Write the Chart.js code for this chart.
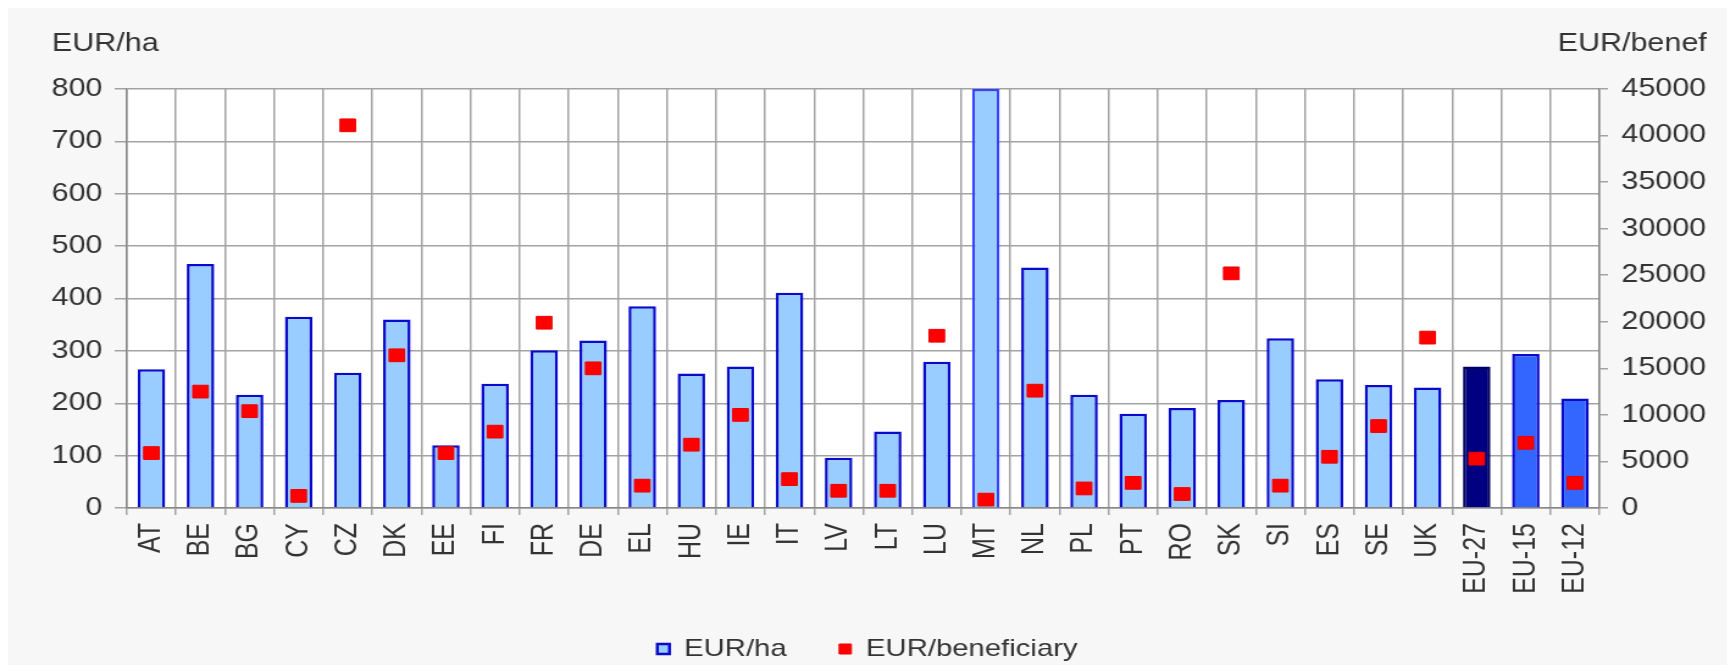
<!DOCTYPE html>
<html>
<head>
<meta charset="utf-8">
<script src="https://cdn.jsdelivr.net/npm/chart.js@4.4.1/dist/chart.umd.min.js"></script>
<style>
  html, body { margin: 0; padding: 0; background: #fff; }
  #panel { position: absolute; left: 8px; top: 8px; width: 1719px; height: 657px; background: #f7f7f7; }
  #wrap { position: absolute; left: 0; top: 0; width: 1422px; height: 671px; transform: scaleX(1.22); transform-origin: 0 0; }
</style>
</head>
<body>
<div id="panel"></div>
<div id="wrap"><canvas id="payChart"></canvas></div>
<script>
// countries and aggregates
const countries = ['AT', 'BE', 'BG', 'CY', 'CZ', 'DK', 'EE', 'FI', 'FR', 'DE', 'EL', 'HU', 'IE', 'IT', 'LV',
  'LT', 'LU', 'MT', 'NL', 'PL', 'PT', 'RO', 'SK', 'SI', 'ES', 'SE', 'UK', 'EU-27', 'EU-15', 'EU-12'];

// left axis: EUR per hectare
const eurPerHa = [265, 466, 216, 365, 258, 360, 120, 237, 301, 320, 385, 257, 270, 411, 96,
  146, 279, 800, 459, 216, 180, 191, 206, 324, 246, 235, 230, 270, 294, 209];

// right axis: EUR per beneficiary
const eurPerBenef = [5900, 12500, 10400, 1300, 41100, 16400, 5900, 8200, 19900, 15000, 2400, 6800, 10000, 3100, 1850,
  1850, 18500, 900, 12600, 2100, 2700, 1500, 25200, 2400, 5500, 8800, 18300, 5300, 7000, 2700];

const haTicks = [0, 100, 200, 300, 400, 500, 600, 700, 800];
const benefTicks = [0, 5000, 10000, 15000, 20000, 25000, 30000, 35000, 40000, 45000];

const FONT = '"Liberation Sans", Arial, sans-serif';
const TXT = '#333';
const GRID = '#a3a3a3';

const barFill = countries.map(c => c === 'EU-27' ? '#000080' : (c.startsWith('EU') ? '#3366ff' : '#99ccff'));
const barLine = countries.map(c => c === 'MT' ? '#3344ff' : (c === 'EU-27' ? '#000060' : '#0a0acc'));

// white plot background + unit captions above the axes
const decor = {
  id: 'decor',
  beforeDraw(chart) {
    const a = chart.chartArea, ctx = chart.ctx;
    ctx.save();
    ctx.fillStyle = '#fff';
    ctx.fillRect(a.left, a.top, a.right - a.left, a.bottom - a.top);
    ctx.restore();
  },
  afterDraw(chart) {
    const ctx = chart.ctx;
    ctx.save();
    ctx.font = '25px ' + FONT;
    ctx.fillStyle = TXT;
    ctx.textBaseline = 'middle';
    ctx.textAlign = 'left';
    ctx.fillText('EUR/ha', 42.5, 44);
    ctx.textAlign = 'right';
    ctx.fillText('EUR/benef', 1399, 44);
    ctx.restore();
  }
};

new Chart(document.getElementById('payChart'), {
  type: 'bar',
  data: {
    labels: countries,
    datasets: [{
      type: 'line',
      label: 'EUR/beneficiary',
      data: eurPerBenef,
      yAxisID: 'y2',
      showLine: false,
      pointStyle: 'rect',
      pointRadius: 9,
      pointHoverRadius: 9,
      pointBackgroundColor: '#ff0000',
      pointBorderColor: '#ee0000',
      pointBorderWidth: 1,
      backgroundColor: '#ff0000',
      borderColor: '#ee0000',
      borderWidth: 1,
      order: 0
    }, {
      label: 'EUR/ha',
      data: eurPerHa,
      yAxisID: 'y',
      backgroundColor: barFill,
      borderColor: barLine,
      borderWidth: 2.5,
      barPercentage: 0.56,
      categoryPercentage: 1,
      order: 1
    }]
  },
  options: {
    responsive: true,
    maintainAspectRatio: false,
    animation: false,
    layout: { padding: { left: 0, right: 0, top: 89, bottom: 0 } },
    plugins: {
      tooltip: { enabled: false },
      legend: {
        position: 'bottom',
        reverse: true,
        labels: {
          font: { family: FONT, size: 24 },
          color: TXT,
          boxWidth: 10,
          boxHeight: 10,
          padding: 43
        }
      }
    },
    scales: {
      x: {
        afterFit: s => { s.height = 86; },
        grid: { color: GRID, lineWidth: 1.5, offset: true, tickLength: 7 },
        border: { color: '#888', width: 1.5 },
        ticks: {
          font: { family: FONT, size: 25 },
          color: TXT,
          autoSkip: false,
          maxRotation: 90,
          minRotation: 90,
          padding: 8
        }
      },
      y: {
        position: 'left',
        min: 0,
        max: 800,
        afterFit: s => { s.width = 104; },
        afterBuildTicks: s => { s.ticks = haTicks.map(v => ({ value: v })); },
        grid: { color: GRID, lineWidth: 1.5, tickLength: 10 },
        border: { color: '#888', width: 1.5 },
        ticks: { font: { family: FONT, size: 25 }, color: TXT, padding: 10, callback: v => String(v) }
      },
      y2: {
        position: 'right',
        min: 0,
        max: 45000,
        afterFit: s => { s.width = 111; },
        afterBuildTicks: s => { s.ticks = benefTicks.map(v => ({ value: v })); },
        grid: { drawOnChartArea: false, color: GRID, lineWidth: 1.5, tickLength: 7 },
        border: { color: '#888', width: 1.5 },
        ticks: { font: { family: FONT, size: 25 }, color: TXT, padding: 11, callback: v => String(v) }
      }
    }
  },
  plugins: [decor]
});
</script>
</body>
</html>
